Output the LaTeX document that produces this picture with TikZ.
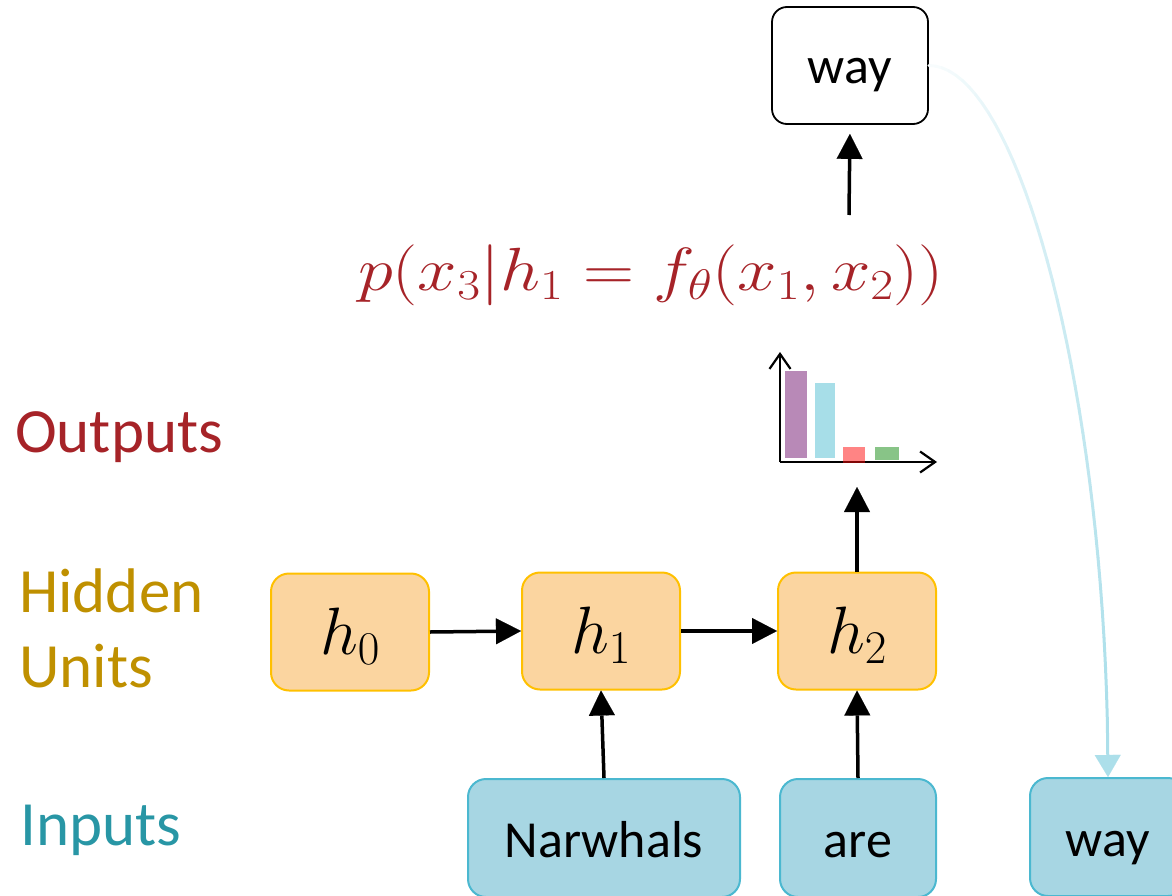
\RequirePackage{fix-cm}
\documentclass[tikz,border=0pt]{standalone}
\usepackage{graphicx}
\usepackage[no-math]{fontspec}
\setmainfont{Carlito}
\usetikzlibrary{arrows.meta}
\definecolor{outred}{RGB}{166,35,40}
\definecolor{hidgold}{RGB}{191,144,0}
\definecolor{inteal}{RGB}{40,150,165}
\definecolor{hfill}{RGB}{251,213,160}
\definecolor{hborder}{RGB}{255,192,0}
\definecolor{infill}{RGB}{167,214,227}
\definecolor{inborder}{RGB}{75,184,208}
\definecolor{barpurple}{RGB}{184,137,183}
\definecolor{barblue}{RGB}{167,222,232}
\definecolor{barred}{RGB}{255,10,10}
\definecolor{bargreen}{RGB}{136,196,135}
\definecolor{curveblue}{RGB}{172,223,234}
\tikzset{
  lbl/.style={font=\fontsize{63}{75}\selectfont, anchor=base west, inner sep=0pt},
  hbox/.style={draw=hborder, fill=hfill, line width=2pt, rounded corners=18pt,
    minimum width=158pt, minimum height=117pt, inner sep=0pt,
    font=\fontsize{67}{75}\selectfont, text height=45pt, text depth=0pt},
  inbox/.style={draw=inborder, fill=infill, line width=2pt, rounded corners=18pt,
    minimum height=118pt, inner sep=0pt,
    font=\fontsize{52}{60}\selectfont, text height=38pt, text depth=0pt},
  outbox/.style={draw=black, fill=white, line width=1.8pt, rounded corners=15pt,
    minimum width=156pt, minimum height=117pt, inner sep=0pt,
    font=\fontsize{52}{60}\selectfont, text height=36pt, text depth=0pt},
  arr/.style={line width=3.5pt, -{Triangle[width=26pt,length=25pt,line width=0.1pt]}},
  axis/.style={line width=2.5pt, -{Straight Barb[length=15pt,width=21pt,line width=2.2pt]}},
}
\begin{document}
\begin{tikzpicture}[x=1pt,y=-1pt]
\useasboundingbox (0,0) rectangle (1172,896);

% row labels
\node[lbl, text=outred] (lout) at (15,452) {Outputs};
\node[lbl, text=hidgold] (lhid) at (19,612) {Hidden};
\node[lbl, text=hidgold] (luni) at (19,687) {Units};
\node[lbl, text=inteal] (linp) at (20,845) {Inputs};

% hidden units
\node[hbox] (h0) at (350,632) {$h_0$};
\node[hbox] (h1) at (601,631) {$h_1$};
\node[hbox] (h2) at (857,631) {$h_2$};

% inputs
\node[inbox, minimum width=272pt] (nw) at (604,838) {Narwhals};
\node[inbox, minimum width=156pt] (ar) at (858,838) {are};
\node[inbox, minimum width=156pt] (bw) at (1108,837) {way};

% output word
\node[outbox] (tw) at (850,65.5) {way};

% formula
\node[text=outred, font=\fontsize{61}{70}\selectfont, inner sep=0pt] (fm) at (651,275)
  {\scalebox{1.16}[1]{$p(x_3|h_1=f_\theta(x_1,x_2))$}};

% chart
\coordinate (org) at (780,462);
\fill[barpurple] (785,371) rectangle (807,458);
\fill[barblue] (815,383) rectangle (835,458);
\fill[bargreen] (875,447) rectangle (899,460);
\draw[axis] (org) -- (780,352);
\draw[axis] (org) -- (937,462);
\fill[barred, fill opacity=0.5] (843,447) rectangle (865,463);
\coordinate (chin) at (857,487);
\coordinate (fs) at (849,215);

% connectors
\draw[arr] (h0.east) -- (h1.west);
\draw[arr] (h1.east) -- (h2.west);
\draw[arr] (nw.north) -- (h1.south);
\draw[arr] (ar.north) -- (h2.south);
\draw[arr] (h2.north) -- (chin);
\draw[arr, shorten >=9pt] (fs) -- (tw.south);

% curved feedback connector with colour gradient
\path (tw.east) .. controls +(90,0) and +(0,-378) .. (bw.north)
  \foreach \i in {0,...,40} { coordinate[pos=\i/40] (c\i) };
\foreach \i in {0,...,37} {
  \pgfmathtruncatemacro{\j}{\i+1}
  \pgfmathtruncatemacro{\p}{8+92*\i/37}
  \draw[curveblue!\p!white, line width=3pt, line cap=round] (c\i) -- (c\j);
}
\draw[curveblue, line width=3pt, -{Triangle[width=26pt,length=22pt,line width=0.1pt]}] (c38) -- (c40);
\end{tikzpicture}
\end{document}
